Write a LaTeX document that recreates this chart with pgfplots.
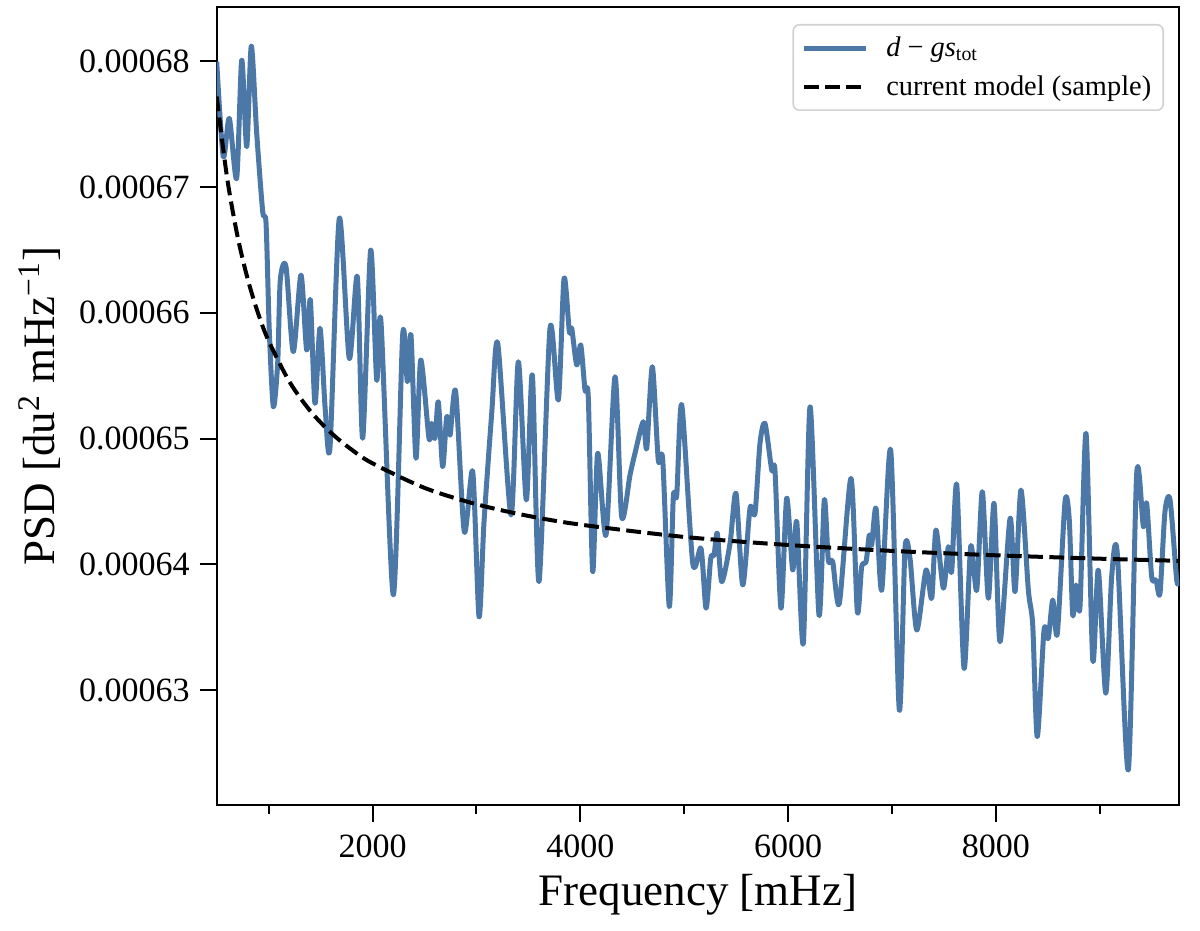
\documentclass[border=0pt]{standalone}
\usepackage{fontspec}
\setmainfont{Liberation Serif}
\usepackage{pgfplots}
\pgfplotsset{compat=1.18}
\definecolor{psdblue}{RGB}{76,120,168}
\definecolor{leggray}{RGB}{210,210,210}
\begin{document}
\begin{tikzpicture}
\path[use as bounding box] (0,0) rectangle (600pt,465.5pt);
\begin{axis}[
  at={(108.35pt,63pt)}, anchor=south west,
  scale only axis, width=481.3pt, height=398.75pt,
  xmin=500, xmax=9765, ymin=0.00062088, ymax=0.00068428,
  axis line style={line width=1pt},
  tick pos=left, tick align=outside,
  major tick length=8.5pt, minor tick length=4.5pt,
  every tick/.style={black, line width=1pt},
  xtick={2000,4000,6000,8000}, xticklabels={2000,4000,6000,8000},
  minor xtick={1000,3000,5000,7000,9000},
  ytick={0.00063,0.00064,0.00065,0.00066,0.00067,0.00068},
  yticklabels={0.00063,0.00064,0.00065,0.00066,0.00067,0.00068},
  scaled x ticks=false, scaled y ticks=false,
  /pgf/number format/assume math mode=true,
  tick label style={font=\fontsize{17}{20}\selectfont},
  xticklabel style={yshift=-3pt},
  yticklabel style={xshift=-1.5pt},
  xlabel={Frequency [mHz]},
  ylabel={PSD [du\textsuperscript{2} mHz\textsuperscript{\textminus1}]},
  label style={font=\fontsize{22.5}{26}\selectfont},
  xlabel style={at={(rel axis cs:0.5,0)}, anchor=center, yshift=-45pt},
  ylabel style={at={(rel axis cs:0,0.5)}, anchor=center, yshift=88.35pt},
  legend style={at={(rel axis cs:1,1)}, anchor=north east, xshift=-7.65pt, yshift=-8.25pt,
    draw=leggray, line width=0.8pt, rounded corners=3pt, fill=white, fill opacity=0.8, text opacity=1,
    font=\fontsize{14.2}{17}\selectfont, inner xsep=4pt, inner ysep=4pt,
    row sep=4pt, cells={anchor=west}},
  legend image code/.code={\draw[#1] (0pt,0pt) -- (31pt,0pt);},
  /tikz/every odd column/.append style={column sep=7pt},
]
\addplot[psdblue, line width=2.5pt, smooth, tension=0.45, line join=round] coordinates {
(500,0.00067997) (563,0.00067242) (621,0.00067547) (692,0.00067070) (741,0.00068010)
(789,0.00067321) (833,0.00068122) (885,0.00067428) (943,0.00066804) (975,0.00066712)
(1006,0.00065864) (1045,0.00065254) (1087,0.00065602) (1112,0.00066262) (1167,0.00066367)
(1237,0.00065692) (1311,0.00066301) (1366,0.00065705) (1401,0.00066103) (1446,0.00065281)
(1494,0.00065878) (1545,0.00065228) (1591,0.00064936) (1680,0.00066752) (1776,0.00065639)
(1853,0.00066288) (1905,0.00065003) (1982,0.00066500) (2040,0.00065467) (2081,0.00065930)
(2200,0.00063758) (2290,0.00065824) (2335,0.00065453) (2370,0.00065824) (2418,0.00064844)
(2464,0.00065626) (2543,0.00065003) (2569,0.00065122) (2601,0.00065003) (2633,0.00065294)
(2675,0.00064777) (2714,0.00065175) (2746,0.00065029) (2800,0.00065374) (2883,0.00064261)
(2964,0.00064738) (3025,0.00063585) (3073,0.00064340) (3147,0.00065202) (3205,0.00065758)
(3333,0.00064393) (3403,0.00065612) (3480,0.00064513) (3538,0.00065506) (3602,0.00063863)
(3708,0.00065878) (3788,0.00065308) (3843,0.00066275) (3894,0.00065851) (3917,0.00065878)
(3965,0.00065586) (4004,0.00065745) (4045,0.00065387) (4077,0.00065321) (4119,0.00063943)
(4167,0.00064884) (4247,0.00064234) (4334,0.00065493) (4398,0.00064380) (4478,0.00064711)
(4526,0.00064884) (4606,0.00065135) (4639,0.00064924) (4693,0.00065572) (4750,0.00064831)
(4793,0.00064831) (4856,0.00063665) (4895,0.00064539) (4928,0.00064553) (4976,0.00065268)
(5082,0.00064010) (5161,0.00064129) (5210,0.00063652) (5255,0.00064049) (5287,0.00064076)
(5318,0.00064248) (5361,0.00063863) (5441,0.00064169) (5498,0.00064566) (5563,0.00063837)
(5633,0.00064447) (5681,0.00064407) (5729,0.00064963) (5777,0.00065122) (5842,0.00064751)
(5874,0.00064738) (5931,0.00063652) (5986,0.00064526) (6044,0.00063956) (6083,0.00064340)
(6146,0.00063374) (6211,0.00065254) (6297,0.00063599) (6348,0.00064513) (6387,0.00064036)
(6429,0.00064022) (6493,0.00063692) (6605,0.00064685) (6666,0.00063625) (6708,0.00063983)
(6750,0.00064022) (6781,0.00064234) (6804,0.00064155) (6846,0.00064447) (6901,0.00063797)
(6987,0.00064910) (7070,0.00062843) (7125,0.00064129) (7173,0.00064049) (7238,0.00063479)
(7327,0.00063956) (7382,0.00063731) (7423,0.00064274) (7494,0.00063811) (7542,0.00064142)
(7574,0.00063943) (7623,0.00064632) (7693,0.00063175) (7757,0.00064142) (7815,0.00063797)
(7869,0.00064579) (7927,0.00063731) (7982,0.00064486) (8039,0.00063386) (8136,0.00064367)
(8184,0.00063784) (8241,0.00064592) (8312,0.00063797) (8354,0.00063519) (8398,0.00062631)
(8463,0.00063479) (8504,0.00063413) (8547,0.00063718) (8591,0.00063453) (8665,0.00064499)
(8706,0.00064354) (8739,0.00063599) (8771,0.00063837) (8809,0.00063665) (8867,0.00065043)
(8932,0.00063241) (8985,0.00063956) (9057,0.00062976) (9114,0.00063903) (9168,0.00064089)
(9274,0.00062366) (9355,0.00064725) (9419,0.00064300) (9451,0.00064486) (9499,0.00063903)
(9541,0.00063877) (9579,0.00063771) (9627,0.00064420) (9676,0.00064513) (9740,0.00063877)
(9765,0.00063877)
};
\addlegendentry{\textit{d} \textminus{} \textit{gs}\textsubscript{tot}}
\addplot[black, line width=2pt, dash pattern=on 7.4pt off 3.2pt, smooth, tension=0.5] coordinates {
(500,0.0006772) (600,0.00067075) (700,0.00066611) (800,0.00066264) (900,0.00065993)
(1000,0.00065777) (1200,0.00065453) (1400,0.00065221) (1600,0.00065047) (1800,0.00064912)
(2000,0.00064804) (2500,0.00064609) (3000,0.00064479) (3500,0.00064386) (4000,0.00064317)
(5000,0.00064219) (6000,0.00064155) (7000,0.00064108) (8000,0.00064073) (9000,0.00064046)
(9765,0.00064029)
};
\addlegendentry{current model (sample)}
\end{axis}
\end{tikzpicture}
\end{document}
